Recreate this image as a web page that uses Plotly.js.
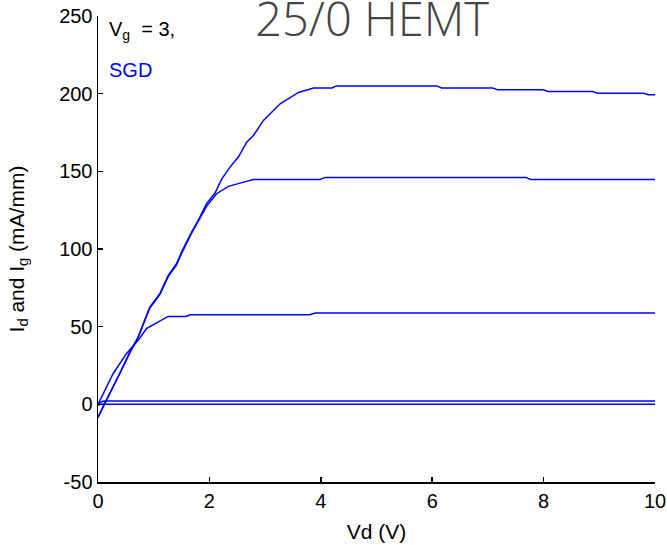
<!DOCTYPE html>
<html>
<head>
<meta charset="utf-8">
<script src="https://cdn.plot.ly/plotly-3.0.1.min.js"></script>
<style>html,body{margin:0;padding:0;background:#fff;}#chart{width:667px;height:545px;}</style>
</head>
<body>
<div id="chart"></div>
<script>
// Vg = 3 (highest) curve
const vdHigh = [0, 0.13, 0.39, 0.57, 0.72, 0.93, 1.11, 1.26, 1.41, 1.5, 1.68, 1.8, 1.95, 2.1, 2.22, 2.37, 2.52, 2.67, 2.79, 2.97, 3.27, 3.6, 3.87, 4.2, 4.28, 6.08, 6.17, 7.08, 7.17, 7.99, 8.08, 8.88, 8.97, 9.79, 9.88, 10];
const idHigh = [-8.5, 1.5, 19.7, 33.7, 43.3, 62.6, 71.2, 83, 90.5, 98, 110.9, 118.4, 129.2, 136, 145, 152.7, 159.2, 168.8, 173.1, 182.8, 193.5, 200.8, 203.7, 203.7, 205, 205, 203.7, 203.7, 202.5, 202.5, 201.4, 201.4, 200.3, 200.3, 199.3, 199.3];
// middle curve
const vdMid = [0, 0.13, 0.39, 0.57, 0.72, 0.93, 1.11, 1.26, 1.41, 1.5, 1.68, 1.8, 1.95, 2.13, 2.34, 2.55, 2.79, 3.99, 4.08, 7.68, 7.77, 10];
const idMid = [-8.5, 1.0, 19.0, 33.0, 43.0, 62.0, 70.6, 82.2, 89.8, 97.2, 110.2, 117.6, 127.6, 135.6, 140.3, 142.4, 144.8, 144.8, 146.1, 146.1, 144.8, 144.8];
// low curve
const vdLow = [0, 0.18, 0.27, 0.51, 0.72, 0.87, 1.05, 1.17, 1.26, 1.58, 1.65, 3.8, 3.9, 10];
const idLow = [0, 13.3, 19.7, 32.6, 41.2, 48.7, 52.3, 55.1, 56.6, 56.6, 57.7, 57.7, 58.8, 58.8];
// near-zero curves
const vdOff1 = [0, 0.1, 10];
const idOff1 = [0.5, 2.1, 2.1];
const vdOff2 = [0, 0.05, 10];
const idOff2 = [-0.5, 0, 0];

const xTicks = [0, 2, 4, 6, 8, 10];
const yTicks = [-50, 0, 50, 100, 150, 200, 250];

const lineStyle = {color: '#0000ff', width: 1.5};
const mk = (x, y) => ({x: x, y: y, type: 'scatter', mode: 'lines', line: lineStyle, showlegend: false, hoverinfo: 'skip'});
const data = [mk(vdHigh, idHigh), mk(vdMid, idMid), mk(vdLow, idLow), mk(vdOff1, idOff1), mk(vdOff2, idOff2)];

const fam = 'Liberation Sans, Arial, sans-serif';
const fs = 20;
const layout = {
  width: 667, height: 545,
  margin: {l: 98, r: 12, t: 16, b: 63},
  paper_bgcolor: '#ffffff', plot_bgcolor: '#ffffff',
  font: {family: fam, size: fs, color: '#000'},
  title: {text: '25/0 HEMT', font: {family: 'Open Sans Light, Open Sans', size: 47, weight: 300, color: '#444'},
          xref: 'paper', x: 0.492, xanchor: 'center', yref: 'container', y: 0.965, yanchor: 'middle'},
  xaxis: {range: [0, 10], tickvals: xTicks, ticktext: xTicks.map(String), ticks: 'inside', ticklen: 5, tickwidth: 1.5, tickcolor: '#000',
          showline: true, linecolor: '#000', linewidth: 1.5, showgrid: false, zeroline: false,
          tickfont: {family: fam, size: fs, color: '#000'},
          title: {text: 'Vd (V)', font: {family: fam, size: 21, color: '#000'}, standoff: 14}},
  yaxis: {range: [-50, 250], tickvals: yTicks, ticktext: yTicks.map(String), ticks: 'inside', ticklen: 5, tickwidth: 1.5, tickcolor: '#000',
          showline: true, linecolor: '#000', linewidth: 1.5, showgrid: false, zeroline: false,
          tickfont: {family: fam, size: fs, color: '#000'},
          title: {text: 'I<sub>d</sub> and I<sub>g</sub> (mA/mm)', font: {family: fam, size: 21, color: '#000'}, standoff: 29}},
  annotations: [
    {text: 'V<sub>g</sub>  = 3,', xref: 'paper', yref: 'paper', x: 0.016, y: 0.968, xanchor: 'left', yanchor: 'middle', showarrow: false, font: {family: fam, size: 20, color: '#000'}},
    {text: 'SGD', xref: 'paper', yref: 'paper', x: 0.016, y: 0.884, xanchor: 'left', yanchor: 'middle', showarrow: false, font: {family: fam, size: 20, color: '#0000ff'}}
  ]
};
Plotly.newPlot('chart', data, layout, {displayModeBar: false, staticPlot: true});
</script>
</body>
</html>
